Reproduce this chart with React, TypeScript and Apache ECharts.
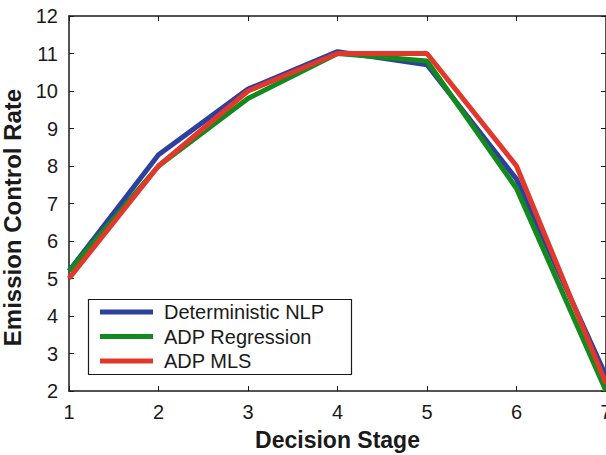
import React, { useEffect, useRef } from "react";
import * as echarts from "echarts";

const stages = [1, 2, 3, 4, 5, 6, 7];
const deterministicNLP = [5.2, 8.3, 10.05, 11.05, 10.7, 7.65, 2.4];
const adpRegression = [5.2, 8.0, 9.8, 11.0, 10.8, 7.4, 2.0];
const adpMLS = [5.0, 8.0, 10.0, 11.0, 11.0, 8.0, 2.2];
const seriesNames = ["Deterministic NLP", "ADP Regression", "ADP MLS"];
const seriesColors = ["#2d40a0", "#128a1e", "#e2382c"];

const FONT = "'Liberation Sans', Arial, Helvetica, sans-serif";

export default function App() {
  const ref = useRef<HTMLDivElement>(null);
  useEffect(() => {
    if (!ref.current) return;
    const chart = echarts.init(ref.current, null, { renderer: "svg" });
    const values = [deterministicNLP, adpRegression, adpMLS];
    const axisLine = { show: true, lineStyle: { color: "#1a1a1a", width: 1.5 } };
    chart.setOption({
      animation: false,
      backgroundColor: "#ffffff",
      textStyle: { fontFamily: FONT },
      grid: { left: 69, right: 0, top: 16, bottom: 64, containLabel: false, outerBoundsMode: "none" },
      xAxis: [
        {
          type: "value",
          min: 1,
          max: 7,
          interval: 1,
          name: "Decision Stage",
          nameLocation: "middle",
          nameGap: 37,
          nameTextStyle: { fontFamily: FONT, fontSize: 23, fontWeight: "bold", color: "#1a1a1a" },
          axisLine,
          axisTick: { show: true, inside: true, length: 5, lineStyle: { color: "#1a1a1a", width: 1 } },
          axisLabel: { fontFamily: FONT, fontSize: 20, color: "#1a1a1a", margin: 11 },
          splitLine: { show: false },
        },
        {
          type: "value",
          position: "top",
          min: 1,
          max: 7,
          interval: 1,
          axisLine,
          axisTick: { show: true, inside: true, length: 5, lineStyle: { color: "#1a1a1a", width: 1 } },
          axisLabel: { show: false },
          splitLine: { show: false },
        },
      ],
      yAxis: [
        {
          type: "value",
          min: 2,
          max: 12,
          interval: 1,
          name: "Emission Control Rate",
          nameLocation: "middle",
          nameGap: 35,
          nameTextStyle: {
            fontFamily: FONT,
            fontSize: 24,
            fontWeight: "bold",
            color: "#1a1a1a",
            padding: [0, 28, 0, 0],
          },
          axisLine,
          axisTick: { show: true, inside: true, length: 5, lineStyle: { color: "#1a1a1a", width: 1 } },
          axisLabel: { fontFamily: FONT, fontSize: 20, color: "#1a1a1a", margin: 11 },
          splitLine: { show: false },
        },
        {
          type: "value",
          position: "right",
          min: 2,
          max: 12,
          interval: 1,
          axisLine,
          axisTick: { show: true, inside: true, length: 5, lineStyle: { color: "#1a1a1a", width: 1 } },
          axisLabel: { show: false },
          splitLine: { show: false },
        },
      ],
      legend: {
        orient: "vertical",
        left: 100,
        top: 302,
        padding: 0,
        itemGap: 4.5,
        itemWidth: 53,
        itemHeight: 5,
        icon: "rect",
        data: seriesNames,
        textStyle: { fontFamily: FONT, fontSize: 20, color: "#1a1a1a", lineHeight: 20, padding: [0, 0, 0, 6] },
      },
      graphic: [
        {
          type: "rect",
          shape: { x: 88.5, y: 299.5, width: 263, height: 75 },
          style: { fill: "#ffffff", stroke: "#1a1a1a", lineWidth: 1.2 },
          z: 0,
          zlevel: 0,
        },
      ],
      series: seriesNames.map((name, i) => ({
        name,
        type: "line",
        data: stages.map((s, j) => [s, values[i][j]]),
        symbol: "none",
        lineStyle: { color: seriesColors[i], width: 5 },
        itemStyle: { color: seriesColors[i] },
        z: 2 + i,
      })),
    });
    return () => chart.dispose();
  }, []);
  return (
    <div
      ref={ref}
      style={{ position: "absolute", left: 0, top: 0, width: 606, height: 455 }}
    />
  );
}
